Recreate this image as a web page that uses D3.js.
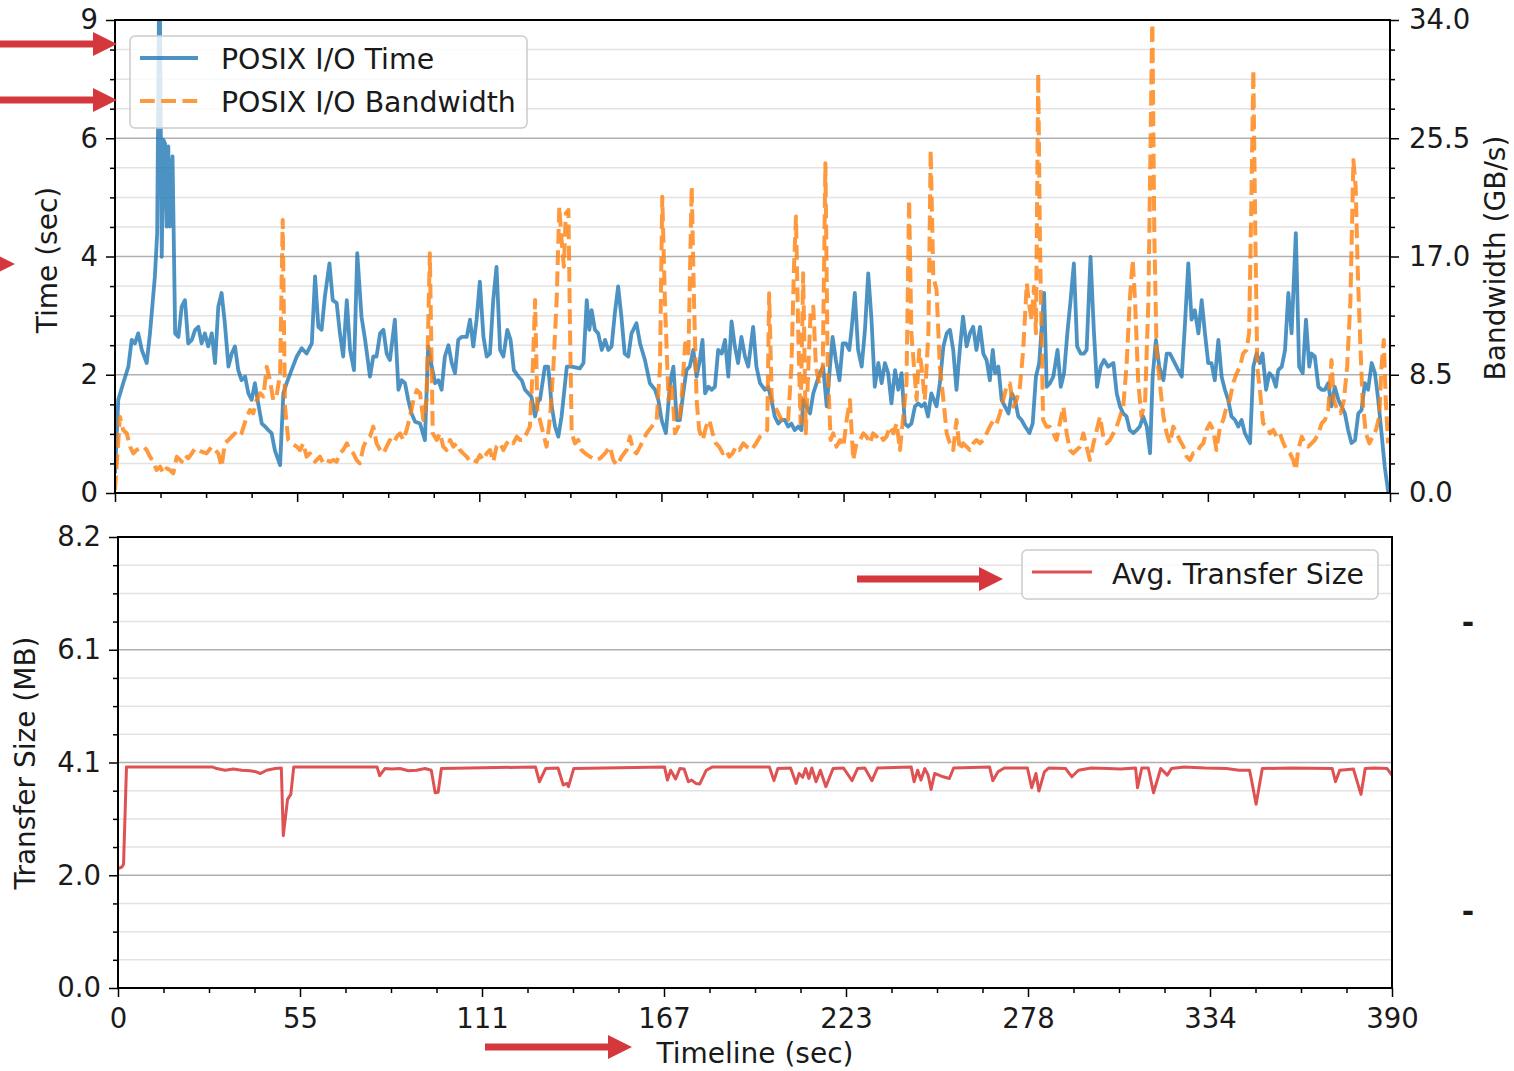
<!DOCTYPE html>
<html>
<head>
<meta charset="utf-8">
<title>POSIX I/O Timeline</title>
<script src="https://cdnjs.cloudflare.com/ajax/libs/d3/7.8.5/d3.min.js"></script>
<style>
body { margin: 0; background: #fff; }
text { font-family: 'DejaVu Sans', sans-serif; fill: #1a1a1a; }
.tick text { font-size: 27.5px; }
.axisLabel { font-size: 28px; }
.legend text { font-size: 28.4px; }
</style>
</head>
<body>
<svg id="chart" width="1514" height="1071"></svg>
<script>

// tick labels as printed on the figure
var timeTickLabels = ['0', '55', '111', '167', '223', '278', '334', '390'];
var ioTimeTickLabels = ['0', '2', '4', '6', '9'];
var bandwidthTickLabels = ['0.0', '8.5', '17.0', '25.5', '34.0'];
var sizeTickLabels = ['0.0', '2.0', '4.1', '6.1', '8.2'];

var timeMax = 390;
var ioTimeMax = 7.97;
var bandwidthMax = 34;
var sizeMax = 8.2;

// [seconds, seconds spent in POSIX I/O]
var ioTime = [
	[0,0.33],[1.0,1.57],[2.5,1.85],[4.1,2.13],[5.1,2.58],[6.1,2.52],[7.1,2.69],[8.2,2.41],[9.7,2.19],[10.7,2.69],
	[12.2,3.65],[12.9,4.38],[13.6,9.2],[14.3,3.98],[14.8,5.95],[15.3,5.89],[15.8,4.49],[16.3,5.84],[16.8,4.49],[17.6,5.67],
	[18.4,2.69],[19.4,2.63],[20.4,3.14],[21.4,3.25],[22.4,2.52],[23.5,2.58],[24.5,2.75],[25.5,2.80],[26.5,2.52],[27.5,2.69],
	[28.5,2.47],[29.6,2.69],[30.6,2.19],[31.6,3.14],[32.6,3.37],[33.6,2.86],[34.7,2.13],[35.7,2.35],[36.7,2.47],[37.7,2.07],
	[38.7,1.90],[39.8,1.96],[40.8,1.68],[41.8,1.57],[42.8,1.85],[43.8,1.51],[44.9,1.17],[45.9,1.12],[46.9,1.06],[47.9,1.01],
	[48.9,0.72],[50.5,0.47],[51.5,1.68],[52.5,1.85],[54.0,2.07],[55.6,2.30],[57.1,2.44],[58.6,2.35],[60.2,2.52],[61.2,3.65],
	[62.2,2.80],[63.2,2.75],[64.2,3.31],[65.6,3.87],[66.6,3.25],[67.8,3.20],[68.8,2.69],[69.8,2.30],[70.9,3.25],[71.9,2.41],
	[73.1,2.07],[74.1,4.04],[75.4,2.97],[76.5,2.58],[78.0,1.96],[79.0,2.30],[80.0,2.30],[81.1,2.69],[82.1,2.75],[83.1,2.35],
	[84.1,2.24],[85.6,2.92],[86.7,1.74],[87.7,1.90],[88.7,1.85],[89.7,1.57],[90.7,1.34],[91.8,1.20],[93.3,1.17],[94.8,0.89],
	[95.8,2.47],[96.9,2.13],[97.9,1.85],[98.9,1.90],[99.9,1.74],[100.9,2.30],[102.0,2.49],[103.0,2.19],[104.0,2.02],[105.0,2.58],
	[106.0,2.63],[107.6,2.63],[108.6,2.92],[109.6,2.47],[110.6,2.92],[111.6,3.56],[112.7,2.63],[113.7,2.30],[114.7,2.35],[115.7,3.25],
	[116.7,3.81],[117.8,2.41],[118.8,2.30],[120.0,2.75],[121.0,2.58],[122.0,2.07],[123.4,1.96],[124.4,1.90],[125.4,1.74],[126.4,1.68],
	[127.4,1.62],[128.5,1.29],[129.5,1.57],[130.0,1.57],[131.5,2.13],[132.5,2.13],[133.6,1.46],[134.6,1.12],[135.6,0.95],[136.6,1.29],
	[138.2,2.13],[139.7,2.13],[142.2,2.10],[143.3,2.19],[144.3,3.25],[145.1,2.75],[145.8,3.08],[146.8,2.75],[147.8,2.69],[148.9,2.41],
	[149.9,2.58],[150.9,2.41],[151.9,2.47],[152.9,3.03],[153.9,3.48],[154.9,2.97],[155.9,2.35],[157.0,2.30],[158.0,2.69],[159.5,2.86],
	[160.6,2.52],[162.1,2.24],[163.6,1.85],[165.2,1.74],[166.2,1.57],[167.2,1.23],[168.5,1.01],[169.8,1.85],[170.8,2.13],[171.8,1.23],
	[172.8,1.23],[173.8,1.68],[174.8,2.07],[175.8,2.13],[176.9,2.41],[177.9,1.96],[178.9,2.24],[179.7,2.58],[180.5,1.68],[181.5,1.79],
	[182.5,1.74],[183.5,1.79],[184.5,2.41],[185.6,2.35],[186.6,2.58],[187.6,1.96],[188.6,2.89],[189.6,2.47],[190.6,2.19],[191.6,2.63],
	[192.7,2.30],[193.7,2.13],[195.2,2.80],[196.2,2.13],[197.3,1.85],[198.8,1.74],[199.8,1.79],[200.8,1.57],[201.8,1.29],[202.9,1.17],
	[203.9,1.23],[204.9,1.23],[205.9,1.12],[206.9,1.17],[207.9,1.06],[209.0,1.12],[210.0,1.06],[210.5,1.57],[211.5,1.46],[212.6,1.34],
	[213.6,1.68],[214.6,1.85],[215.6,2.02],[216.6,2.13],[217.7,1.46],[218.7,2.13],[219.5,2.63],[220.5,2.24],[221.6,1.90],[222.6,2.52],
	[223.6,2.52],[224.6,2.41],[225.3,2.75],[226.3,3.37],[227.3,2.41],[228.4,2.13],[229.4,2.75],[230.4,3.70],[231.4,2.92],[232.4,1.79],
	[233.5,2.19],[234.5,1.85],[235.5,2.19],[236.5,2.02],[237.5,1.51],[238.6,2.07],[239.6,1.74],[240.6,2.02],[241.6,1.17],[242.6,1.12],
	[243.6,1.17],[244.7,1.46],[245.7,1.51],[246.7,1.46],[247.7,1.51],[248.7,1.29],[249.7,1.68],[251.3,1.46],[252.3,1.85],[253.4,2.47],
	[254.4,2.69],[255.4,2.75],[256.4,2.41],[257.4,1.74],[258.4,2.41],[259.4,2.97],[260.5,2.47],[261.5,2.69],[262.5,2.80],[263.5,2.41],
	[264.6,2.80],[265.6,2.35],[266.6,2.24],[267.6,1.90],[268.5,2.41],[269.2,2.02],[270.2,2.13],[271.2,1.57],[272.2,1.46],[273.3,1.34],
	[274.3,1.68],[275.3,1.57],[276.3,1.29],[277.3,1.23],[278.4,1.12],[279.7,1.01],[280.7,1.17],[281.7,1.96],[282.7,2.19],[284.2,3.37],
	[285.0,1.79],[286.0,1.85],[287.0,1.96],[288.3,2.41],[289.3,1.79],[290.3,2.02],[291.3,2.69],[292.3,3.25],[293.3,3.87],[294.3,2.47],
	[295.4,2.35],[296.4,2.35],[297.2,2.41],[298.4,3.98],[299.4,2.75],[300.4,1.79],[301.5,2.13],[302.5,2.24],[303.8,2.13],[305.4,2.19],
	[306.4,1.68],[307.4,1.46],[308.4,1.34],[309.4,1.29],[310.4,1.06],[311.5,1.01],[312.5,1.06],[313.5,1.12],[314.5,1.29],[315.6,1.12],
	[316.6,0.67],[317.4,1.96],[318.4,2.58],[319.4,2.13],[320.7,1.90],[321.7,2.35],[322.7,2.35],[323.7,2.24],[324.7,2.13],[326.3,1.96],
	[327.3,2.86],[328.3,3.87],[329.3,2.92],[330.3,3.08],[331.4,2.69],[332.4,3.25],[333.4,2.69],[334.4,2.19],[335.4,2.19],[336.4,1.90],
	[337.5,2.58],[338.5,1.96],[339.5,1.74],[340.5,1.57],[341.5,1.29],[342.6,1.23],[343.6,1.12],[344.6,1.23],[345.6,1.01],[347.2,0.84],
	[348.2,2.13],[349.2,2.35],[350.2,2.19],[351.0,2.35],[352.1,1.74],[353.1,2.02],[354.1,1.96],[355.1,1.79],[355.8,2.07],[356.9,2.13],
	[357.9,2.41],[358.9,3.37],[359.9,2.69],[361.2,4.38],[362.2,2.13],[363.3,2.02],[364.3,2.92],[365.3,2.13],[366.0,2.35],[367.0,2.30],
	[368.1,1.79],[369.1,1.74],[370.1,1.74],[371.1,1.85],[372.1,1.46],[373.1,1.79],[374.2,1.57],[375.2,1.46],[376.2,1.34],[377.2,1.06],
	[378.2,0.84],[379.3,0.89],[380.3,1.34],[381.3,1.40],[382.3,1.85],[383.3,1.74],[384.4,2.19],[385.4,2.02],[386.4,1.57],[387.4,1.01],
	[388.4,0.44],[389.5,0]
];

// [seconds, GB/s]
var ioBandwidth = [
	[0,0.2],[1.5,5.49],[2.5,4.53],[3.6,4.29],[4.6,3.33],[5.6,2.85],[6.6,3.09],[7.6,3.21],[8.7,3.33],[9.7,3.09],
	[10.7,2.61],[11.7,2.25],[12.7,1.65],[13.8,1.89],[14.8,1.41],[15.8,1.77],[16.8,1.65],[17.8,1.41],[18.9,2.61],[20.4,2.25],
	[21.4,2.73],[22.4,2.49],[23.5,2.85],[24.5,3.21],[25.5,3.09],[26.5,2.97],[28.0,2.85],[29.6,3.33],[30.6,3.09],[31.6,2.85],
	[32.6,1.89],[33.6,3.57],[34.7,3.81],[35.7,4.05],[36.7,4.29],[37.7,4.05],[38.7,4.29],[40.3,5.49],[41.3,5.97],[42.3,5.73],
	[43.3,6.69],[44.4,7.17],[45.4,6.93],[46.4,9.08],[47.4,8.12],[48.4,6.69],[49.4,6.93],[50.5,8.60],[51.3,19.63],[52.0,6.21],
	[53.0,3.81],[54.0,3.57],[55.6,3.33],[56.6,3.09],[57.6,3.57],[58.6,2.61],[59.6,2.85],[61.2,2.25],[62.7,2.61],[63.7,2.13],
	[64.7,2.37],[65.8,2.25],[66.8,2.37],[67.8,2.25],[68.8,2.85],[69.8,3.09],[70.9,3.57],[71.9,3.09],[72.9,2.85],[73.9,2.37],
	[74.9,2.13],[76.0,3.33],[77.0,3.81],[78.0,4.05],[79.0,4.77],[80.0,3.57],[81.1,3.09],[82.1,2.85],[83.1,3.33],[84.1,3.81],
	[85.1,3.57],[86.2,4.05],[87.2,4.29],[88.2,3.81],[89.2,4.53],[90.2,5.49],[91.3,6.69],[92.3,7.40],[93.3,7.17],[94.3,5.25],
	[95.3,6.69],[96.3,17.23],[97.2,4.29],[98.4,3.81],[99.4,4.29],[100.4,3.33],[101.4,3.09],[102.5,3.81],[103.5,3.33],[104.5,3.57],
	[105.5,3.09],[106.5,2.85],[107.6,2.61],[108.6,2.25],[109.6,2.37],[110.6,2.25],[111.6,2.73],[112.7,2.37],[113.7,2.85],[114.7,3.09],
	[115.7,2.25],[116.7,3.33],[117.8,3.57],[118.8,3.09],[119.8,3.57],[120.8,3.81],[121.8,3.57],[122.9,4.05],[123.9,3.81],[124.9,3.81],
	[125.9,4.29],[126.9,4.77],[127.8,9.08],[128.5,13.87],[129.2,5.97],[131.0,4.29],[132.0,3.33],[133.1,5.49],[134.1,9.08],[135.1,13.87],
	[135.9,20.58],[136.6,18.19],[137.3,16.27],[137.9,20.11],[138.7,20.35],[139.2,11.48],[139.7,4.29],[140.7,3.57],[141.7,3.81],[142.7,3.09],
	[143.8,2.85],[145.3,2.61],[146.8,2.37],[148.4,2.49],[149.9,2.85],[151.4,3.33],[152.4,2.37],[153.5,2.01],[155.0,2.61],[156.5,3.09],
	[157.5,4.05],[158.5,3.09],[159.5,2.85],[160.6,3.33],[161.6,3.81],[162.6,4.29],[164.2,4.77],[165.7,5.25],[166.7,9.08],[167.4,21.30],
	[168.2,13.87],[169.3,6.69],[170.3,7.88],[171.3,4.29],[172.3,4.77],[173.3,6.69],[174.4,10.76],[175.4,10.04],[176.4,22.02],[177.1,13.87],
	[177.9,6.69],[178.7,4.53],[179.8,3.81],[180.8,4.77],[181.8,5.25],[182.8,4.29],[183.8,3.57],[184.8,3.33],[185.9,2.85],[186.9,3.09],
	[187.9,2.61],[188.9,2.85],[189.9,3.33],[191.0,3.09],[192.2,3.57],[193.2,3.33],[194.7,3.09],[196.1,3.57],[197.3,4.05],[198.5,4.29],
	[199.5,4.53],[200.1,14.35],[200.9,6.69],[201.9,6.21],[202.9,5.73],[203.9,5.25],[204.9,5.01],[205.9,5.25],[206.9,9.08],[207.7,16.27],
	[208.3,19.87],[209.0,11.48],[209.7,5.01],[210.5,15.79],[211.3,4.29],[212.1,9.08],[212.8,13.16],[213.6,13.40],[214.4,9.08],[215.4,7.88],
	[216.5,9.08],[217.3,23.70],[218.0,9.08],[218.9,3.81],[219.7,4.29],[220.7,3.33],[221.8,3.81],[222.8,3.33],[223.8,5.25],[224.8,6.69],
	[225.8,2.37],[226.8,3.57],[227.9,3.81],[228.9,4.29],[229.9,4.05],[230.9,3.57],[231.9,4.29],[232.9,4.05],[233.9,4.29],[235.0,3.81],
	[236.0,4.05],[237.0,4.77],[238.1,4.29],[239.1,5.01],[240.1,3.09],[241.1,5.49],[242.1,7.88],[242.9,21.06],[243.6,11.48],[244.4,9.08],
	[245.2,6.69],[246.0,10.28],[246.7,9.08],[247.7,6.69],[248.8,11.48],[249.5,24.66],[250.3,15.55],[251.3,14.59],[252.3,9.08],[253.4,6.69],
	[254.4,4.29],[255.4,3.57],[256.4,3.09],[257.4,5.25],[258.4,3.09],[259.4,3.57],[260.5,3.33],[261.5,3.09],[262.5,3.57],[263.5,3.81],
	[264.6,3.57],[265.6,3.81],[266.6,4.29],[267.6,4.77],[268.7,5.25],[269.7,5.01],[270.7,5.73],[271.7,6.69],[272.7,7.64],[273.7,7.88],
	[274.8,6.21],[275.8,6.69],[276.8,7.64],[277.8,10.28],[278.9,15.07],[279.7,13.40],[280.4,12.44],[281.1,14.83],[281.7,11.48],[282.4,30.17],
	[282.9,18.67],[283.4,11.48],[283.9,5.25],[284.9,4.77],[285.9,4.77],[287.0,4.29],[288.0,3.81],[289.0,5.01],[290.1,6.21],[291.1,4.29],
	[292.1,3.09],[293.1,2.85],[294.1,3.09],[295.2,3.33],[296.2,4.29],[297.2,3.33],[298.2,2.37],[299.3,3.57],[300.3,4.53],[301.3,5.49],
	[302.3,4.05],[303.3,3.57],[304.3,3.81],[305.4,4.29],[306.4,4.77],[307.4,5.49],[308.4,6.21],[309.4,9.08],[310.4,13.87],[311.3,16.75],
	[312.0,13.87],[313.0,7.88],[314.0,5.49],[315.1,6.69],[316.1,13.87],[316.8,25.86],[317.3,34.5],[317.9,18.67],[318.6,10.28],[319.6,7.88],
	[320.7,5.49],[321.7,4.29],[322.7,3.57],[323.7,4.77],[324.7,4.29],[325.7,3.81],[326.8,3.33],[327.8,2.61],[328.8,2.37],[329.8,2.85],
	[330.8,2.85],[331.9,3.33],[332.9,3.57],[333.9,4.53],[334.9,5.01],[335.9,4.53],[336.9,3.09],[338.0,4.77],[339.0,5.25],[340.0,6.21],
	[341.0,6.69],[342.0,7.88],[343.1,8.60],[344.1,9.08],[345.1,10.04],[346.1,10.28],[346.9,11.48],[347.6,21.06],[348.2,30.41],[348.8,18.67],
	[349.4,9.08],[350.2,7.40],[351.2,5.01],[352.3,4.77],[353.3,4.29],[354.3,4.53],[355.3,4.05],[356.3,4.29],[357.4,3.57],[358.4,3.09],
	[359.4,2.85],[360.4,2.37],[361.2,1.65],[361.9,3.09],[363.0,4.05],[364.0,3.57],[365.0,3.33],[366.0,3.57],[367.0,3.81],[368.1,4.29],
	[369.1,5.01],[370.1,5.25],[371.1,5.97],[372.1,9.56],[372.8,6.69],[373.9,5.97],[374.9,5.73],[375.9,6.69],[376.9,9.08],[377.9,13.87],
	[378.8,23.94],[379.5,22.02],[380.1,16.27],[380.8,11.48],[381.6,6.69],[382.6,4.29],[383.7,3.57],[384.7,4.05],[385.7,4.53],[386.7,5.49],
	[387.4,9.08],[388.1,11.0],[388.7,6.69],[389.4,3.57]
];

// [seconds, MB]
var transferSize = [
	[0,2.17],[1.2,2.2],[1.7,2.25],[2.6,4.02],[28.9,4.02],[30.2,3.99],[32.8,3.96],[35.3,3.98],[37.9,3.96],[40.4,3.95],
	[42.3,3.93],[43.6,3.90],[45.5,3.96],[48.1,3.99],[50.0,4.00],[50.6,2.77],[51.9,3.43],[52.9,3.52],[53.8,4.02],[79.3,4.02],
	[80.1,3.86],[81.7,3.99],[83.8,3.98],[86.3,3.99],[88.9,3.95],[91.4,3.96],[94.0,3.99],[95.9,3.96],[97.1,3.55],[98.0,3.56],
	[99.0,3.99],[127.8,4.02],[129.0,3.75],[130.9,3.99],[134.7,4.00],[136.3,3.69],[137.0,3.71],[137.4,3.72],[137.9,3.66],[139.5,3.99],
	[167.3,4.02],[168.2,3.78],[169.2,3.96],[170.7,3.80],[172.0,3.99],[173.3,3.98],[174.6,3.75],[175.6,3.78],[176.9,3.72],[178.1,3.71],
	[180.1,3.96],[182.0,4.02],[199.4,4.02],[200.8,3.77],[202.0,3.99],[205.9,4.00],[207.6,3.72],[208.5,3.90],[209.6,3.83],[210.5,3.99],
	[211.5,3.81],[212.4,4.00],[213.7,3.75],[215.0,3.96],[216.7,3.66],[218.9,3.99],[222.1,4.00],[224.7,3.77],[226.4,3.99],[228.6,4.00],
	[230.8,3.77],[232.5,4.00],[242.8,4.02],[243.7,3.75],[244.8,3.96],[245.8,3.78],[247.0,3.99],[248.0,3.87],[248.9,3.61],[250.0,3.90],
	[251.3,3.87],[252.6,3.84],[254.5,3.81],[255.8,4.00],[266.8,4.02],[267.8,3.77],[269.4,3.93],[271.3,4.00],[278.4,4.00],[279.7,3.64],
	[281.0,3.90],[281.9,3.58],[283.6,3.93],[284.9,4.00],[290.1,3.99],[292.0,3.84],[294.0,3.96],[297.9,4.00],[303.0,3.99],[306.9,3.98],
	[311.5,4.00],[312.1,3.64],[313.4,4.00],[315.4,4.00],[317.0,3.55],[319.2,3.99],[321.2,3.87],[322.5,3.99],[326.4,4.02],[332.8,4.00],
	[339.3,3.99],[343.2,3.96],[346.4,3.96],[347.1,3.75],[348.4,3.34],[350.3,3.99],[358.7,4.00],[371.7,3.99],[372.7,3.75],[374.0,3.96],
	[378.2,3.98],[380.5,3.52],[381.8,3.99],[384.6,4.00],[388.5,3.99],[390,3.87]
];

var blue = '#1f77b4', orange = '#ff7f0e', red = '#d62728', arrowRed = '#d4383c';

var svg = d3.select('#chart');

var panelA = {left: 115, right: 1390, top: 20, bottom: 493};
var panelB = {left: 118, right: 1392, top: 537, bottom: 988};

var xA = d3.scaleLinear().domain([0, timeMax]).range([panelA.left, panelA.right]);
var xB = d3.scaleLinear().domain([0, timeMax]).range([panelB.left, panelB.right]);
var yTime = d3.scaleLinear().domain([0, ioTimeMax]).range([panelA.bottom, panelA.top]);
var yBw = d3.scaleLinear().domain([0, bandwidthMax]).range([panelA.bottom, panelA.top]);
var ySize = d3.scaleLinear().domain([0, sizeMax]).range([panelB.bottom, panelB.top]);

// evenly spaced major ticks, 3 minor ticks in between
function majorTicks(max, n) { return d3.range(n).map(function(i) { return i * max / (n - 1); }); }
function minorTicks(max, n) {
	var step = max / (n - 1) / 4, out = [];
	for (var i = 0; i <= (n - 1) * 4; i++) if (i % 4) out.push(i * step);
	return out;
}

function grid(p, y, max) {
	var g = svg.append('g');
	g.selectAll('.minor').data(minorTicks(max, 5)).enter().append('line')
		.attr('x1', p.left).attr('x2', p.right)
		.attr('y1', function(d) { return y(d); }).attr('y2', function(d) { return y(d); })
		.attr('stroke', '#e3e3e3').attr('stroke-width', 1.5);
	g.selectAll('.major').data(majorTicks(max, 5)).enter().append('line')
		.attr('x1', p.left).attr('x2', p.right)
		.attr('y1', function(d) { return y(d); }).attr('y2', function(d) { return y(d); })
		.attr('stroke', '#b0b0b0').attr('stroke-width', 1.5);
}

function clip(id, p) {
	svg.append('clipPath').attr('id', id).append('rect')
		.attr('x', p.left).attr('y', p.top)
		.attr('width', p.right - p.left).attr('height', p.bottom - p.top);
}

function axis(gen, scale, max, n, labels, transform, pad) {
	var major = svg.append('g').attr('transform', transform)
		.call(gen(scale).tickValues(majorTicks(max, n))
			.tickFormat(function(d, i) { return labels ? labels[i] : ''; })
			.tickSize(9).tickPadding(pad).tickSizeOuter(0));
	var minor = svg.append('g').attr('transform', transform)
		.call(gen(scale).tickValues(minorTicks(max, n)).tickFormat('').tickSize(5).tickSizeOuter(0));
	[major, minor].forEach(function(g) {
		g.select('.domain').remove();
		g.selectAll('.tick line').attr('stroke', '#000').attr('stroke-width', 1.5);
		g.selectAll('.tick text').attr('fill', '#1a1a1a').style('font-family', 'DejaVu Sans');
	});
}

function frame(p) {
	svg.append('rect')
		.attr('x', p.left).attr('y', p.top)
		.attr('width', p.right - p.left).attr('height', p.bottom - p.top)
		.attr('fill', 'none').attr('stroke', '#000').attr('stroke-width', 2);
}

function arrow(x0, tip, y) {
	var hl = 24, hh = 12, sh = 3.5;
	var d = 'M' + x0 + ',' + (y - sh) + 'L' + (tip - hl) + ',' + (y - sh) + 'L' + (tip - hl) + ',' + (y - hh) +
		'L' + tip + ',' + y + 'L' + (tip - hl) + ',' + (y + hh) + 'L' + (tip - hl) + ',' + (y + sh) +
		'L' + x0 + ',' + (y + sh) + 'Z';
	svg.append('path').attr('d', d).attr('fill', arrowRed);
}

clip('clipA', panelA);
clip('clipB', panelB);

// --- top panel: POSIX I/O time and bandwidth
grid(panelA, yTime, ioTimeMax);

var timeLine = d3.line().x(function(d) { return xA(d[0]); }).y(function(d) { return yTime(d[1]); });
var bwLine = d3.line().x(function(d) { return xA(d[0]); }).y(function(d) { return yBw(d[1]); });

svg.append('path')
	.attr('d', timeLine(ioTime))
	.attr('clip-path', 'url(#clipA)')
	.attr('fill', 'none').attr('stroke', blue).attr('stroke-opacity', 0.8)
	.attr('stroke-width', 3.8).attr('stroke-linejoin', 'round');

svg.append('path')
	.attr('d', bwLine(ioBandwidth))
	.attr('clip-path', 'url(#clipA)')
	.attr('fill', 'none').attr('stroke', orange).attr('stroke-opacity', 0.8)
	.attr('stroke-width', 4).attr('stroke-dasharray', '14.8,6.4').attr('stroke-linejoin', 'round');

frame(panelA);
axis(d3.axisLeft, yTime, ioTimeMax, 5, ioTimeTickLabels, 'translate(' + panelA.left + ',0)', 8);
axis(d3.axisRight, yBw, bandwidthMax, 5, bandwidthTickLabels, 'translate(' + panelA.right + ',0)', 10);
axis(d3.axisBottom, xA, timeMax, 8, null, 'translate(0,' + panelA.bottom + ')', 8);

svg.append('text').attr('class', 'axisLabel')
	.attr('transform', 'translate(47,260) rotate(-90)')
	.attr('text-anchor', 'middle').attr('dy', '0.35em')
	.text('Time (sec)');

svg.append('text').attr('class', 'axisLabel')
	.attr('transform', 'translate(1495,258) rotate(-90)')
	.attr('text-anchor', 'middle').attr('dy', '0.35em')
	.text('Bandwidth (GB/s)');

var legA = svg.append('g').attr('class', 'legend');
legA.append('rect')
	.attr('x', 130).attr('y', 36).attr('width', 397).attr('height', 92).attr('rx', 5)
	.attr('fill', '#fff').attr('fill-opacity', 0.8).attr('stroke', '#cccccc').attr('stroke-width', 1.5);
legA.append('line').attr('x1', 140).attr('x2', 198).attr('y1', 58).attr('y2', 58)
	.attr('stroke', blue).attr('stroke-opacity', 0.8).attr('stroke-width', 3.8);
legA.append('line').attr('x1', 140).attr('x2', 198).attr('y1', 101).attr('y2', 101)
	.attr('stroke', orange).attr('stroke-opacity', 0.8).attr('stroke-width', 4).attr('stroke-dasharray', '14.8,6.4');
legA.append('text').attr('x', 221).attr('y', 59).attr('dy', '0.35em').text('POSIX I/O Time');
legA.append('text').attr('x', 221).attr('y', 102).attr('dy', '0.35em').text('POSIX I/O Bandwidth');

// --- bottom panel: average transfer size
grid(panelB, ySize, sizeMax);

var sizeLine = d3.line().x(function(d) { return xB(d[0]); }).y(function(d) { return ySize(d[1]); });

svg.append('path')
	.attr('d', sizeLine(transferSize))
	.attr('clip-path', 'url(#clipB)')
	.attr('fill', 'none').attr('stroke', red).attr('stroke-opacity', 0.8)
	.attr('stroke-width', 3).attr('stroke-linejoin', 'round');

frame(panelB);
axis(d3.axisLeft, ySize, sizeMax, 5, sizeTickLabels, 'translate(' + panelB.left + ',0)', 8);
axis(d3.axisBottom, xB, timeMax, 8, timeTickLabels, 'translate(0,' + panelB.bottom + ')', 11);

svg.append('text').attr('class', 'axisLabel')
	.attr('transform', 'translate(25,763) rotate(-90)')
	.attr('text-anchor', 'middle').attr('dy', '0.35em')
	.text('Transfer Size (MB)');

svg.append('text').attr('class', 'axisLabel')
	.attr('x', 755).attr('y', 1053).attr('dy', '0.35em')
	.attr('text-anchor', 'middle')
	.text('Timeline (sec)');

var legB = svg.append('g').attr('class', 'legend');
legB.append('rect')
	.attr('x', 1022).attr('y', 550).attr('width', 356).attr('height', 49).attr('rx', 5)
	.attr('fill', '#fff').attr('fill-opacity', 0.8).attr('stroke', '#cccccc').attr('stroke-width', 1.5);
legB.append('line').attr('x1', 1032).attr('x2', 1092).attr('y1', 572).attr('y2', 572)
	.attr('stroke', red).attr('stroke-opacity', 0.8).attr('stroke-width', 3);
legB.append('text').attr('x', 1112).attr('y', 574).attr('dy', '0.35em').text('Avg. Transfer Size');

// stray tick marks at the far right
svg.append('text').attr('x', 1468).attr('y', 633).attr('text-anchor', 'middle')
	.style('font-size', '30px').style('font-weight', 'bold').attr('fill', '#000').text('-');
svg.append('text').attr('x', 1468).attr('y', 922).attr('text-anchor', 'middle')
	.style('font-size', '30px').style('font-weight', 'bold').attr('fill', '#000').text('-');

// red pointer arrows over the figure
arrow(0, 117, 44);
arrow(0, 117, 100);
arrow(-40, 15, 264);
arrow(857, 1003, 579);
arrow(485, 632, 1047);

</script>
</body>
</html>
